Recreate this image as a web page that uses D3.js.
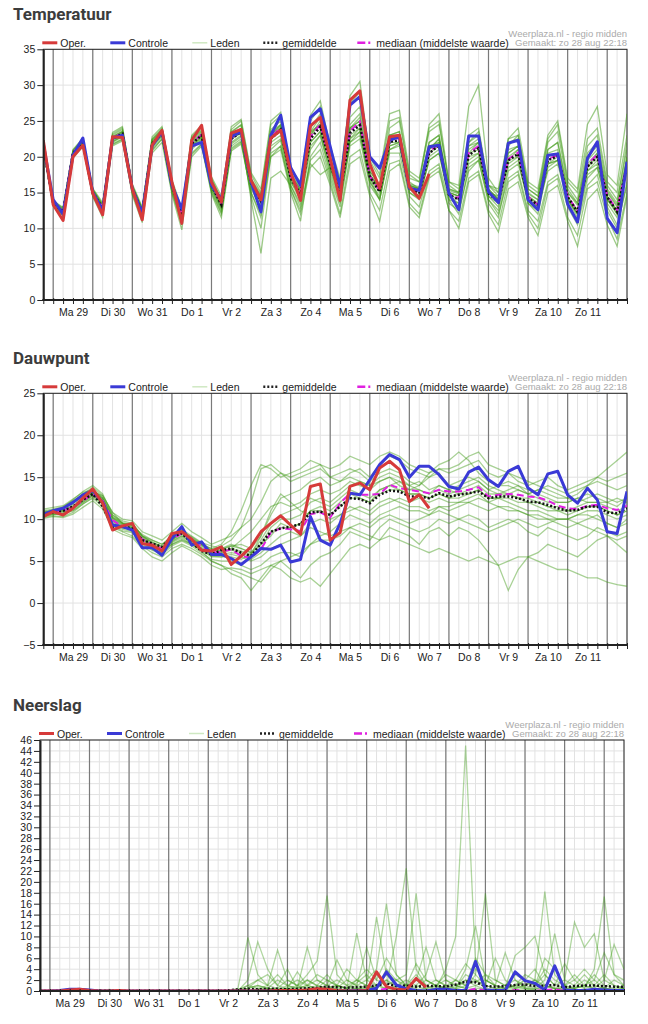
<!DOCTYPE html>
<html>
<head>
<meta charset="utf-8">
<script src="https://cdn.jsdelivr.net/npm/d3@7"></script>
<style>
body { margin: 0; background: #fff; }
text { font-family: "Liberation Sans", Arial, sans-serif; }
.title { font-family: Roboto, "Noto Sans", sans-serif; font-weight: 700; font-size: 17px; fill: #3c3c3c; }
</style>
</head>
<body>
<div id="chart"></div>
<script>
// 6-hourly steps, zo 28 aug 18:00 -> ma 12 sep 12:00
var startTime = new Date(Date.UTC(2022, 7, 28, 18));
var endTime = new Date(Date.UTC(2022, 8, 12, 12));
var dayLabels = ["Ma 29", "Di 30", "Wo 31", "Do 1", "Vr 2", "Za 3", "Zo 4", "Ma 5", "Di 6", "Wo 7", "Do 8", "Vr 9", "Za 10", "Zo 11"];
var legendLabels = ["Oper.", "Controle", "Leden", "gemiddelde", "mediaan (middelste waarde)"];

var tempTicks = [0, 5, 10, 15, 20, 25, 30, 35];
var dewTicks = [-5, 0, 5, 10, 15, 20, 25];
var rainTicks = d3.range(0, 47, 2);

// ---- Temperatuur ----
var tempOper = [22.3, 13.3,11.1,20,21.6, 14.9,11.9,22.8,22.7, 15.5,11.2,21.6,23.7, 16.5,10.7,22.3,24.4, 16.5,13.7,23.3,23.8, 16.7,14,22.6,23.7, 17.9,13.9,24.3,25.5, 19.8,13.9,27.9,29.2, 19,15.6,22.8,23, 15.8,14.2,17.6];
var tempControle = [21.8, 14,12,20.2,22.6, 15,12.5,22.6,23, 15.5,12.1,21.5,23.5, 16,12.7,21.5,22, 16,14,22.8,23.5, 16.5,12.3,23,25.8, 18.5,16,25.5,26.7, 21.4,15.8,27.2,28.4, 20,18.4,22.3,22.8, 15.6,15.3,21.4,21.6, 14.9,12.6,22.9,22.9, 15.1,13.6,21.9,22.3, 14,12.6,20.2,20.4, 13.4,10.9,19.8,22.1, 11.4,9.4,19.3];
var tempMean = [21.5, 13.5,12.3,20.5,22, 15,12.8,22.5,23.2, 15.5,12.2,21.8,23.3, 16,11.8,21.8,23, 16,13.3,22.5,23.5, 16.3,13.8,22.5,23.8, 17,14.8,22.5,24.2, 19,14.9,23.3,24.4, 17.2,15.1,22.1,22.3, 15.6,14.9,20.5,21.6, 14.7,14,20.2,21.2, 14.9,13.7,19.5,20.4, 14.2,13.3,19.5,20.1, 14.4,12.3,18.6,20, 14.4,12.3,18.8];
var tempMedian = [21.5, 13.5,12.4,20.6,22.1, 15,12.9,22.6,23.3, 15.5,12.2,21.8,23.4, 16,11.9,21.9,23.1, 16.1,13.4,22.6,23.6, 16.4,14,22.8,24, 17.2,15,22.8,24.5, 19.2,15,23.6,24.9, 17.3,15.3,22.3,22.6, 15.8,15,20.8,21.7, 14.8,14.2,20.5,21.5, 15,13.8,19.7,20.6, 14.4,13.3,19.7,20.2, 14.5,12.4,19,20.3, 14.6,12.5,19];
var tempLeden = [
    [22, 13.8,12.8,20.8,22.4, 15.5,13.2,23,23.8, 16,12.8,22.5,24, 16.5,12.5,22.8,24.1, 17,14,23.8,25, 17.5,15,24.5,25.8, 18.5,16,25,27, 21,16.5,27.5,29, 19.5,17,25,25.5, 17.5,16.5,23.5,24.5, 16.5,15.5,23,24, 16,15,22.5,23, 15.5,14.5,22,23.5, 16,14,21.5,23, 16,14,21],
    [21, 13.2,11.8,20.2,21.5, 14.5,12,21.8,22.5, 15,11.5,21,22.5, 15.2,10.8,20.5,21.8, 15,12,21,22, 15,12,20.5,21.5, 15.5,12.5,19.5,21, 16.5,12,20,21, 15,12.5,19,19.5, 13.5,12,17.5,18.5, 12.5,11,17,18, 12.5,10.5,16.5,17.5, 12,10,16,17, 11.5,9,15.5,16.5, 11.5,8.5,15],
    [21.8, 13.6,12.5,20.6,22.3, 15.2,13,22.7,23.5, 15.8,12.5,22.3,23.8, 16.5,12.3,22.5,23.8, 16.8,14,23.5,24.5, 17,14.8,23.8,25, 17.8,15.8,24,26, 20,15.5,25.5,27, 18,16,23,23, 16,15.5,21,22, 15.5,15,22,23.5, 16,14.5,21,21.5, 14.5,13,18,19, 13.5,11,17,18.5, 13.5,11.5,20],
    [21.2, 13.4,12.2,20.4,21.8, 14.8,12.5,22.2,22.8, 15.2,12,21.5,23, 15.8,11.5,21.3,22.5, 15.5,12.8,21.8,22.8, 15.8,13,21.5,22.5, 16.5,14,21.5,23, 18,14,22,23, 16.5,14.5,21.5,22, 15.5,14.5,21,22.5, 15,14.5,21.5,22.5, 15.5,14,20,21, 15,14,21,22, 15.5,13.5,20,21.5, 15,13,19.5],
    [21.6, 13.5,12.4,20.5,22, 14.8,12.4,22,22.8, 15,11.8,21.2,22.8, 15.5,11,21,22.4, 15.5,12.5,21.5,22.5, 14.5,10,20,21, 15,11,20,22, 17,13,22,23.5, 16.5,14,21,21.5, 15,14,19.5,20.5, 14,12,18.5,19.5, 13.5,11.5,18,19, 14,12.5,19,20, 14.5,12,19,20.5, 14.5,12,18.5],
    [21.4, 13.4,12.1,20.3,21.9, 15,12.9,22.4,23.1, 15.6,12.3,21.9,23.2, 16.2,11.8,21.6,22.7, 15.8,12.8,22,23, 14,6.5,17,18, 16,13,19,17.5, 18.5,15,22.5,24, 17.5,15.5,23,23.5, 16.5,15.5,22,23, 15,14.5,20.5,21, 14.5,13.5,19,20, 13.5,12,18.5,19.5, 14,12.5,18,19.5, 14,12.5,18],
    [21.7, 13.7,12.6,20.8,22.2, 15.3,13.3,22.8,23.6, 15.8,12.6,22.2,23.6, 16.3,12.2,22.3,23.5, 16.5,13.8,23,24, 16.8,14.5,23,24.5, 17.5,15.5,23.5,25.5, 19.5,15.8,24.5,26, 18,16,24,25, 17,16.5,24.5,26, 16.5,16,27,30, 17,15,22,22.5, 15.5,14.5,21,22, 15,13.5,20.5,22, 15.5,13.5,22],
    [21.3, 13.3,12,20.1,21.7, 14.7,12.6,22.1,22.9, 15.3,11.9,21.5,23.1, 15.7,11.3,21.4,22.8, 16.2,13.5,22.8,23.8, 16.8,14.2,23.2,24.4, 17.3,15.2,23,25, 19.5,15.5,24,25.5, 17,14,20.5,20.5, 14.5,13,18,19, 13.5,12.5,18,19.5, 14,12,17,18, 12.5,11,16.5,17.5, 13,10.5,16,17.5, 12.5,10,16.5],
    [21.9, 13.9,12.9,21,22.6, 15.6,13.6,23.2,24, 16.2,13,22.8,24.2, 16.8,12.8,23,24.4, 17.2,14.5,24.2,25.2, 17.8,15.5,25,26.2, 18.3,16.5,25.8,27.8, 21.5,17,28.5,30.5, 20,17.5,26,26.5, 18,17,24,25, 16,15,22,23, 15.5,14,21.5,23, 16,15,22.5,24.5, 16.5,15,22.5,24, 16.5,15,23],
    [21.1, 13.1,11.7,19.8,21.4, 14.6,12.2,21.7,22.4, 14.8,11.4,20.8,22.5, 15.1,10.5,20.3,21.7, 15.2,12.2,21.2,22.2, 15.6,12.8,21,22.3, 16,13.5,21,23, 17.5,13.5,21.5,22.5, 16,14,21,21.8, 15,14.2,20,21, 14,13.5,19,20, 14.5,13,19.5,21, 14.5,13.5,20,20.5, 14,11.5,17.5,18.5, 13,10.5,16],
    [21.5, 13.5,12.3,20.6,22.1, 15.1,12.8,22.6,23.3, 15.4,12.1,21.8,23.4, 16.1,11.6,21.9,23.2, 16.3,13.2,22.9,23.9, 16.5,13.5,22.5,23.5, 16.5,14.5,22,23.5, 18.5,14.5,23,24, 17,15.5,22.5,23, 16,15.5,21.5,22, 15,14.5,20,20.5, 15,14.5,20.5,21.5, 14.5,13.5,19,19.5, 14,12,18,19, 14,12,19],
    [21.6, 13.6,12.5,20.5,22, 15.4,13.4,23.4,24.2, 15.7,12.4,22,23.6, 16,11.9,22,23, 16,13.2,22.4,23.4, 16.2,13.5,22,23, 16.8,14.5,22,23.5, 18.5,14.2,22.5,23.5, 17,15,21.5,22, 15.5,14.5,19.5,20.5, 14.5,13.5,19.5,20.5, 14,12.5,18.5,19.5, 13.5,12.5,19,19.5, 14,12,18.5,20, 14,12.5,19.5],
    [21.2, 13.2,11.9,20,21.6, 14.4,11.5,21.5,22.2, 14.6,10.8,20.5,22, 14.8,9.8,20,21.5, 14.8,11.5,20.8,21.8, 15,11.5,20,21.5, 15.5,12,18.5,20, 16,11.5,19,20, 14.5,11,18,19, 13,11.5,17,18, 12.5,10,16.5,17.5, 12,9.5,15.5,16.5, 11.5,9,15,16, 11,7.5,14,15.5, 10.5,7.5,14.5],
    [21.8, 13.8,12.7,20.9,22.5, 15.2,13.1,22.8,23.5, 15.9,12.7,22.4,23.8, 16.4,12.3,22.6,23.6, 16.6,13.9,23.4,24.4, 16.5,14.5,23.5,24.5, 17,15,23,24.5, 19,15,24,25, 17.5,15.5,22.5,23, 16,15.5,21,22.5, 15.5,15,21.5,22, 16,15.5,22.5,24, 16.5,15.5,23,25, 17,15.5,24.5,27, 17.5,16,26],
    [21.4, 13.4,12.2,20.3,21.8, 14.9,12.7,22.4,23, 15.3,12,21.6,23, 15.9,11.7,21.7,23, 16,13,22.5,23.3, 16.5,14,23,24, 17.3,15.3,23.3,24.5, 19.3,15.3,23.8,24.5, 17.5,15.5,22,22, 15.8,15,20.5,21.5, 14.8,14,20.5,22, 15,13.5,19.5,20, 14,13,19.5,20.5, 14.5,12.5,18.5,20.5, 14.5,12.5,19],
    [21.7, 13.6,12.4,20.7,22.2, 15.1,13,22.6,23.4, 15.6,12.3,22,23.4, 16.2,12,22.2,23.3, 16.3,13.6,22.9,23.8, 16.8,14.2,23,24.2, 17.5,15.5,23.5,24.5, 19.5,15.3,24,25, 17.5,15.8,23,23.5, 16.2,15.8,22,23, 15.3,14.8,21,22, 15.2,14.2,20.5,21.5, 14.8,14,20.5,21, 15,13.2,19.5,21, 15.2,13.2,20]
];

// ---- Dauwpunt ----
var dewOper = [10.3, 10.9,10.5,11.3,12.5, 13.6,11.9,8.7,9.2, 9.5,7.1,6.9,6.2, 8.3,8.5,7.6,6.3, 6.2,6.7,4.6,5.6, 6.7,8.5,9.5,10.4, 9.3,8.2,13.9,14.2, 7.5,8.4,13.9,14.3, 13.5,16.1,16.9,15.9, 12.1,12.9,11.3];
var dewControle = [10.6, 11,11.3,12,12.9, 13.4,12,9.3,9.1, 8.7,6.6,6.6,5.7, 7.7,9.1,6.9,7.3, 5.8,5.8,5.3,4.6, 5.5,6.5,6.4,6.9, 4.9,5.2,10.3,7.5, 6.9,9.5,13.1,12.9, 14.7,16.5,17.7,17.1, 15,16.3,16.3,15.3, 13.9,13.6,15.6,16.2, 14.7,13.9,15.7,16.3, 13.7,12.9,15.4,15.7, 12.9,11.9,13.7,12.3, 8.5,8.3,13.3];
var dewMean = [10.6, 10.8,11,11.5,12.3, 13,11.5,9.1,9.1, 8.9,7.5,7.1,6.7, 7.9,8.3,7.2,6.2, 5.8,6.3,6.5,6, 5.6,7.1,8.5,8.9, 9.1,9.4,10.8,10.9, 10.5,11.5,12.5,12.4, 11.9,12.9,13.4,13.3, 12.7,12.7,12.5,13.1, 12.7,12.9,13.1,13.3, 12.5,12.7,12.7,12.5, 12.1,12,11.7,11.3, 11,11.1,11.5,11.5, 10.8,10.7,11.3];
var dewMedian = [10.6, 10.8,11,11.4,12.2, 13,12.2,9.9,9.1, 8.9,7.6,7,6.5, 7.6,8.3,7.5,6.8, 6,6.1,6.4,5.6, 5.4,6.4,8.4,8.9, 8.8,8.6,10.6,10.8, 10.2,11.9,13.1,12.9, 12.9,13,14.1,13.7, 13.5,13.3,13.1,13.5, 13.3,13.3,13.5,13.8, 12.7,12.9,13,12.9, 12.7,12.6,12.2,11.6, 11.3,11.2,11.6,11.7, 11.3,11.1,11.6];
var dewLeden = [
    [10.5, 10.8,11.2,12,13, 13.5,12.5,10.5,9.8, 9.5,8,7.5,7, 8,8.5,7.8,7, 6.5,7,8.5,11, 14,16.5,16,15, 15.5,16,17,16.5, 15,15.5,16,15.5, 14.5,15.5,16,15.5, 14.5,14,15,15.5, 14,14.5,15,14.5, 13.5,14,14.5,14, 13,13.5,14,13.5, 13,13.5,14,14.5, 14,13.5,14],
    [10.2, 10.4,10.3,10.8,11.8, 12.5,11.5,9,8.5, 8,6.8,6,5.5, 6.5,7,6.5,5.8, 5,4.5,4,3.5, 3,2.5,4,5, 4,3,4.5,5.5, 6,7,8.5,8, 7.5,9,10,9.5, 9,8.5,9,10, 9.5,10,10.5,10, 9,9.5,10,9.5, 8.5,8,9,8.5, 8,7.5,8,9, 8.5,8,8.5],
    [11, 11.2,11.5,12.2,12.8, 13.2,12.8,10.8,9.5, 9.2,8.2,7.5,7, 7.8,8.8,8,7.2, 6.8,6.5,6.8,7, 6.5,8,10.5,12.5, 13,13.5,14.5,15, 14,14.5,15.5,16, 15,16.5,17.5,17, 16,15.5,15,16, 15.5,16,16.5,17, 15.5,15,15.5,14.5, 14,14.5,15,14, 13.5,14,14.5,15, 14.5,15,15.5],
    [10.8, 11,10.9,11.3,12, 12.8,12,9.5,9, 8.8,7.3,6.5,6, 7.2,7.8,7,6.3, 5.5,5.5,5.8,5.5, 5,5.5,6.5,7, 7.5,8,9.5,10, 9.5,10.5,11.5,11, 10.5,11.5,12,12.5, 12,12.5,12,12.5, 12,12,12.5,13, 12,12.5,12,11.5, 11,11,10.5,10, 10,10.5,11,11, 10.5,10,10.5],
    [10.4, 10.6,10.8,11,12, 12.8,12,10.2,9.5, 9,7.5,6.8,6.2, 7,7.5,7,6.2, 5,4.5,3.5,3, 1.5,3,4.5,4, 3,2.5,3,2, 3.5,5,6.5,7, 6.5,7.5,9,8.5, 8,7,8.5,9, 8,9,8.5,7.5, 6,4.5,1.5,4, 5.5,6,7,6.5, 6,5.5,6.5,7.5, 8,7.5,8],
    [10.7, 11,11.4,12.3,13.3, 14,13,10.5,9.5, 9.5,8,7.2,6.8, 8,8.5,7.5,7, 6.2,6.5,7,6.5, 6,7,9,10, 10,10.5,12,12.5, 12,13,14,14.5, 14,15,15.5,15, 14,14.5,13.5,14, 13.5,14,14.5,15, 14,13.5,13,13.5, 13,12.5,12,12, 12,12.5,13,12.5, 12,11.5,12.5],
    [10.9, 10.9,11.1,11.6,12.5, 13.2,12.4,10,9.2, 9,7.8,7,6.5, 7.5,8.4,7.7,6.9, 6.1,6.3,6.8,6.5, 6,7.5,9.5,10.5, 11,11.5,12.5,12, 11.5,12.5,13.5,13, 12.5,13.5,14,14.5, 13.5,13.5,13,13.5, 13,13.5,14,14.5, 13.5,13,13,12.5, 12.5,12,11.5,11, 11,11.5,12,12, 11.5,11,11.5],
    [10.3, 10.5,10.7,11.8,13, 13.8,12.8,10.8,10, 9.8,8.5,8,7.5, 8.5,9.5,8.5,7.8, 7,7.5,8,9, 10,12,14.5,15.5, 15,15.5,16,16.5, 16,16.5,17.5,17, 16.5,17.5,18,17.5, 16.5,16,15.5,16, 16,16.5,17.5,18, 16.5,16,15.5,15, 14.5,14,13.5,13, 12.5,13,14,15, 16,17,18],
    [10.6, 10.7,10.6,11,11.8, 12.6,11.8,9.3,8.8, 8.5,7,6.3,5.8, 6.8,7.4,6.8,6, 5.2,5,5,4.5, 4,4.5,5.5,6, 6,5.5,7,8, 8.5,9.5,10.5,10, 9.5,10.5,11,11.5, 11,11,10.5,11.5, 11,11.5,12,11.5, 11,11.5,11.5,11, 10.5,10,10,9.5, 9,9.5,10,10.5, 9.5,9,10],
    [10.5, 11,11.3,12,12.6, 13,12,9.8,9, 8.7,7.6,6.8,6.4, 7.4,8,7.2,6.6, 5.8,6,6.5,6.2, 5.8,7,8,9.5, 9,9.5,11,11.5, 11,12,13,12.5, 12,13.5,14,13.5, 13,13,12.5,13, 12.5,12.5,13,13.5, 12.5,12.5,12.5,12, 12,11.5,11,11, 10.5,11,11.5,11.5, 11,10.5,11],
    [11.2, 11.4,11.6,12.4,13.2, 13.5,12.6,10.3,9.6, 9.3,8,7.3,6.7, 7.6,8.3,7.6,7, 6.5,6.2,6.5,7.5, 8.5,10,11.5,12, 11.5,12,13,13.5, 13,13.5,14.5,14, 13.5,14.5,15,14, 13.5,14,15.5,16.5, 17,18,17,15.5, 14.5,14,14,13.5, 13,13.5,13,12.5, 12.5,12,12.5,13, 12.5,12,12.5],
    [10.1, 10.3,10.2,10.6,11.4, 12.2,11.2,8.8,8.2, 7.8,6.5,5.5,5, 6,6.8,6.2,5.5, 4.5,4,4.2,4, 3.5,4,4.5,5, 5.5,6,7,7.5, 7.5,8,9,9.5, 9,10,10.5,10, 9.5,10,10.5,11, 10.5,10,9.5,9, 8.5,9,9.5,10, 9.5,9,9.5,10, 10,9.5,9,8.5, 8,7,6],
    [10.7, 10.9,11,11.4,12.2, 12.9,12.1,9.7,9.1, 8.9,7.6,6.9,6.3, 7.3,8,7.3,6.5, 5.7,5.8,6,5.8, 5.2,6,7,8, 8.5,8,9,8.5, 8,8.5,9,8.5, 8,7.5,8,7.5, 7,6.5,6,6.5, 6,5.5,5,5.5, 5,4.5,5,5.5, 5.5,5,4.5,4, 4,3.5,3,3, 2.5,2.2,2],
    [10.9, 11.1,11.3,11.9,12.7, 13.3,12.5,10.2,9.4, 9.2,7.9,7.2,6.6, 7.7,8.6,7.9,7.1, 6.3,6.8,7.5,9, 12,16,16.5,15.5, 14.5,15,15.5,16, 15,14.5,15,14.5, 14,14.5,15,14.5, 14,13.5,13,14, 13.5,13,13.5,14, 13,13,13.5,14, 13.5,13,12.5,12, 12,12.5,12,12, 12,12.5,12],
    [10.6, 10.8,11,11.5,12.4, 13.1,12.3,10.1,9.3, 9,7.7,7,6.5, 7.5,8.2,7.5,6.8, 6,6,6.3,6, 5.5,6.5,8.5,9, 9,9.5,11,11, 10.5,11.5,12.5,12.5, 12,13,13.5,13.5, 13,13,12.5,13, 12.5,13,13,13.5, 12.5,12.5,13,12.5, 12,12,11.5,11.5, 11,11,11.5,11.5, 11,10.5,11],
    [10.4, 10.6,10.5,11.2,12.2, 13,11.8,9.2,8.6, 8.4,7.2,6.4,6, 7,7.6,7,6.4, 5.6,5.5,5.5,5.2, 5.8,8,11,13, 12,11,10.5,11, 10,10.5,11,11.5, 11,12,12.5,12, 11.5,11.5,11,11.5, 11.5,12,12,12.5, 12,11.5,11,11, 10.5,10.5,10,10, 10,10.5,10.5,10, 9.5,9,9.5]
];

// ---- Neerslag (mm per 6 uur) ----
var rainOper = [0, 0,0,0.2,0.3, 0.1,0,0,0.1, 0,0,0,0, 0,0,0,0, 0,0,0,0, 0,0,0,0.1, 0.1,0.1,0.2,0.4, 0.3,0.1,0,0, 0.1,3.5,0.8,0.3, 0.2,2.3,0.7];
var rainControle = [0, 0,0.1,0.3,0.3, 0.2,0,0,0, 0,0,0,0, 0,0,0,0, 0,0,0,0, 0,0,0,0, 0,0,0,0.1, 0,0,0,0.1, 0.1,0.5,3.5,1.1, 0.4,0.1,0,0.3, 0.3,0.1,0.1,5.4, 0.2,0.1,0.1,3.5, 1.9,1.4,0.2,4.6, 0.2,0.1,0.1,0.3, 0.2,0.1,0.1];
var rainMean = [0, 0,0.05,0.1,0.15, 0.1,0.05,0.05,0, 0,0,0,0, 0,0,0,0, 0,0,0.1,0.3, 0.4,0.3,0.4,0.4, 0.3,0.4,0.5,0.6, 0.8,0.7,0.6,0.7, 0.8,1,1.4,0.9, 1,0.8,0.9,0.9, 0.8,1.2,1.7,1.6, 0.9,0.8,0.9,1.1, 1.2,0.9,1,1.1, 0.7,0.9,1,1, 0.9,0.8,0.8];
var rainMedian = [0, 0,0,0,0, 0,0,0,0, 0,0,0,0, 0,0,0,0, 0,0,0,0, 0,0,0,0, 0,0,0,0, 0,0,0,0, 0,0.2,0.4,0.2, 0,0,0,0, 0,0,0,0.4, 0.1,0,0,0.2, 0,0,0.2,0.3, 0,0,0,0, 0,0,0];
var rainLeden = [
    [0,0,0,0,0,0,0,0,0,0,0,0,0,0,0,0,0,0,0,0, 0,0.5,1,0.5,0.2,1,2,1,0.5,2,1,0.5,1.5,3,1,2,0.5,1,3,1,0.5,4,10,45,5,1,0.5,1,2,0.5,1,3,1,0.5,0.5,1,2,0.5,0.3,0.5],
    [0,0,0,0,0,0,0,0,0,0,0,0.2,0,0,0,0,0,0,0,0, 0.5,9.8,3,1,0.5,2,1,3,5.5,17.5,3,1,2,1,0.5,4,2,1,0.5,2,1,0.5,1,2,1.5,3,1,0.5,1,2,4,1,0.5,1,3,1,0.5,2,1,0.5],
    [0,0,0,0.2,0,0,0,0.3,0,0,0,0,0,0,0,0,0,0,0,0, 0,2,9,4,1,0.5,3.5,1,2,1,5.7,2,1,0.5,3,1,10,22.5,4,1,2,1,0.5,3,2,1,6,2,0.5,1,2,0.5,1,5,2,0.5,1,3,1,0.5],
    [0,0,0,0,0,0,0,0,0,0,0,0,0,0,0,0,0,0,0,0, 0,0,0.5,1,7.5,2,1,0.5,1,3,1,0.5,10.6,2,4,16,3,1,2,0.5,1,2,1,0.5,3,17.9,2,1,0.5,2,1,4,2,1,0.5,1,3,1,0.5,1],
    [0,0,0,0,0,0,0,0,0,0,0,0,0,0,0,0,0,0,0,0, 0,1,2,3,1,4,0.5,8,2,1,0.5,2,1,8,2,1,2,3,17.9,2,1,0.5,2,1,4,2,1,0.5,1,3,2,18.2,3,1,0.5,2,1,0.5,2,1],
    [0,0,0,0,0,0,0,0,0,0,0,0,0,0,0,0,0,0,0,0, 0.2,0.5,1,0.5,2,1,0.5,1,3,2,1,4,2,1,13.6,3,1,0.5,2,8,2,1,0.5,4,12,2,1,7,2,1,0.5,2,10.5,2,1,0.5,4,17.3,3,1],
    [0,0,0,0,0,0,0,0,0,0,0,0,0,0,0,0,0,0,0,0, 0,0,0.3,0.5,0.2,0.5,1,2,1,0.5,1,0.5,1,2,1,0.5,1,2,1,3,9,2,1,0.5,1,2,1,0.5,6.5,8,10,3,1,2,12.6,8,10.5,2,8.5,4],
    [0,0,0,0,0,0,0,0,0,0,0,0,0,0,0,0,0,0,0,0, 0,0,0,0.2,0.5,0.3,0.5,1,0.5,0.3,0.5,0.2,0.5,1,0.5,2,1,0.5,0.3,0.5,1,0.5,0.3,1,2,0.5,0.3,0.5,1,0.5,0.3,1,0.5,0.3,0.5,1,0.5,0.3,0.2,0.5],
    [0,0,0,0,0,0,0,0,0,0,0,0,0,0,0,0,0,0,0,0, 0,0,0,0,0,0,0,0.2,0.5,1,2,1,0.5,0.3,1,3,2,0.5,1,0.3,0.5,1,2,5,3,1,0.5,0.3,0.5,1,2,1,0.5,0.3,1,3,1,0.5,0.3,0.2],
    [0,0,0,0,0,0,0,0,0,0,0,0,0,0,0,0,0,0,0,0, 0.3,1,0.5,0.2,0,0.5,0.2,0,0,0.5,0.3,0,0.2,0.5,1,0.5,0.3,0,0,0.2,0.5,0.3,0,0.2,0.5,0.3,0.2,0,0,0.2,0.5,0.3,0,0,0.2,0.3,0.2,0,0.2,0],
    [0,0,0,0,0,0,0,0,0,0,0,0,0,0,0,0,0,0,0,0, 0,0.5,2,1,3,1,0.5,2,1,0.5,1,0.5,2,4,2,6,3,1,5,2,1,3,2,1,6,3,2,1,3,2,1,6,4,1,2,4,2,7,3,2],
    [0,0,0,0,0,0,0,0,0,0,0,0,0,0,0,0,0,0,0,0, 0,0,0,0.5,0.3,0,0.2,0.5,0.3,0.2,0,0.3,0.5,0.2,0,0.3,0.5,0.2,0.3,0,0.2,0.5,0.3,2,1,0.3,0.2,0,0.3,0.5,0.2,0,0.5,0.3,0,0.2,0.3,0.5,0.2,0]
];

function timeAt(i) { return d3.utcHour.offset(startTime, 6 * i); }

EnsembleChart = function(svg, opts) {
    var vis = this;
    vis.svg = svg;
    vis.opts = opts;
    vis.initVis();
    vis.updateVis();
}

EnsembleChart.prototype.initVis = function() {
    var vis = this;
    var o = vis.opts;

    vis.g = vis.svg.append("g");
    vis.x = d3.scaleUtc().domain([startTime, endTime]).range([o.left, o.right]);
    vis.y = d3.scaleLinear().domain([o.ticks[0], o.ticks[o.ticks.length - 1]]).range([o.bottom, o.top]);

    vis.g.append("text")
        .attr("class", "title")
        .attr("x", 13)
        .attr("y", o.top - 29)
        .text(o.title);

    var sixHours = d3.utcHour.every(6).range(startTime, d3.utcHour.offset(endTime, 1));
    var midnights = d3.utcDay.range(d3.utcDay.ceil(startTime), endTime);

    // light grid
    vis.g.selectAll(".vgrid").data(sixHours).enter().append("line")
        .attr("x1", d => vis.x(d)).attr("x2", d => vis.x(d))
        .attr("y1", o.top).attr("y2", o.bottom)
        .attr("stroke", "#e2e2e2").attr("stroke-width", 1);
    vis.g.selectAll(".hgrid").data(o.ticks).enter().append("line")
        .attr("x1", o.left).attr("x2", o.right)
        .attr("y1", d => vis.y(d)).attr("y2", d => vis.y(d))
        .attr("stroke", "#e2e2e2").attr("stroke-width", 1);
    // day separators
    vis.g.selectAll(".dgrid").data(midnights).enter().append("line")
        .attr("x1", d => vis.x(d)).attr("x2", d => vis.x(d))
        .attr("y1", o.top).attr("y2", o.bottom)
        .attr("stroke", "#7a7a7a").attr("stroke-width", 1.2);

    // frame
    vis.g.append("rect")
        .attr("x", o.left).attr("y", o.top)
        .attr("width", o.right - o.left).attr("height", o.bottom - o.top)
        .attr("fill", "none").attr("stroke", "#222").attr("stroke-width", 1);

    vis.clipId = "clip-" + o.key;
    vis.svg.append("clipPath").attr("id", vis.clipId)
        .append("rect")
        .attr("x", o.left).attr("y", o.top)
        .attr("width", o.right - o.left).attr("height", o.bottom - o.top);
    vis.lines = vis.g.append("g").attr("clip-path", "url(#" + vis.clipId + ")");

    // axes
    vis.yAxis = d3.axisLeft(vis.y).tickValues(o.ticks).tickSize(6).tickPadding(2).tickSizeOuter(0);
    vis.g.append("g")
        .attr("class", "y-axis")
        .attr("transform", "translate(" + o.left + ",0)")
        .call(vis.yAxis);

    vis.xTicks = d3.axisBottom(vis.x).tickValues(sixHours).tickSize(6).tickFormat("").tickSizeOuter(0);
    vis.g.append("g")
        .attr("class", "x-ticks")
        .attr("transform", "translate(0," + (o.bottom - 2) + ")")
        .call(vis.xTicks);

    var noons = midnights.slice(0, dayLabels.length).map(d => d3.utcHour.offset(d, 12));
    vis.xLabels = d3.axisBottom(vis.x).tickValues(noons).tickSize(0).tickPadding(9)
        .tickFormat((d, i) => dayLabels[i]);
    vis.g.append("g")
        .attr("class", "x-labels")
        .attr("transform", "translate(0," + o.bottom + ")")
        .call(vis.xLabels);

    vis.g.selectAll(".y-axis text, .x-labels text")
        .attr("font-size", 10.5)
        .attr("fill", "#222")
        .attr("font-family", "'Liberation Sans', Arial, sans-serif");
    vis.g.selectAll(".y-axis line, .x-ticks line").attr("stroke", "#222");
    vis.g.selectAll(".x-labels .domain, .x-ticks .domain").remove();
    vis.g.select(".y-axis .domain").attr("stroke", "#222").attr("stroke-width", 2);
    vis.g.append("line")
        .attr("x1", o.left - 1).attr("x2", o.right)
        .attr("y1", o.bottom).attr("y2", o.bottom)
        .attr("stroke", "#222").attr("stroke-width", 2);

    // legend
    var lx = o.left - 1;
    var ly = o.top - 6.5;
    var items = [
        {dx: 0, w: 15, tx: 18, stroke: "#d63a3a", sw: 3, dash: null},
        {dx: 68, w: 15, tx: 86, stroke: "#3a3ad6", sw: 3, dash: null},
        {dx: 150, w: 15, tx: 168, stroke: "#cfe8c2", sw: 1.5, dash: null},
        {dx: 221, w: 14, tx: 240, stroke: "#222", sw: 2.5, dash: "2,2"},
        {dx: 315, w: 15, tx: 334, stroke: "#e020e0", sw: 2.5, dash: "8,3,2,3"}
    ];
    var leg = vis.g.append("g").attr("class", "legend");
    items.forEach(function(it, k) {
        leg.append("line")
            .attr("x1", lx + it.dx).attr("x2", lx + it.dx + it.w)
            .attr("y1", ly).attr("y2", ly)
            .attr("stroke", it.stroke).attr("stroke-width", it.sw)
            .attr("stroke-dasharray", it.dash);
        leg.append("text")
            .attr("x", lx + it.tx).attr("y", ly + 4)
            .attr("font-size", 10.5).attr("fill", "#222")
            .text(legendLabels[k]);
    });
    vis.g.append("text")
        .attr("x", o.right).attr("y", o.top - 12)
        .attr("text-anchor", "end").attr("font-size", 9.5).attr("fill", "#aaa")
        .text("Weerplaza.nl - regio midden");
    vis.g.append("text")
        .attr("x", o.right).attr("y", o.top - 3)
        .attr("text-anchor", "end").attr("font-size", 9.5).attr("fill", "#aaa")
        .text("Gemaakt: zo 28 aug 22:18");
}

EnsembleChart.prototype.updateVis = function() {
    var vis = this;
    var o = vis.opts;

    var line = d3.line()
        .x((d, i) => vis.x(timeAt(i)))
        .y(d => vis.y(d));

    vis.lines.selectAll(".lid")
        .data(o.members)
        .enter().append("path")
        .attr("class", "lid")
        .attr("d", line)
        .attr("fill", "none")
        .attr("stroke", "#3d9a14")
        .attr("stroke-opacity", o.memberOpacity)
        .attr("stroke-width", 1.3);

    vis.lines.append("path").datum(o.median)
        .attr("d", line).attr("fill", "none")
        .attr("stroke", "#e020e0").attr("stroke-width", 2)
        .attr("stroke-dasharray", "7,4");
    vis.lines.append("path").datum(o.mean)
        .attr("d", line).attr("fill", "none")
        .attr("stroke", "#111").attr("stroke-width", 2.5)
        .attr("stroke-dasharray", "2,2");
    vis.lines.append("path").datum(o.controle)
        .attr("d", line).attr("fill", "none")
        .attr("stroke", "#3a3ad6").attr("stroke-width", 3)
        .attr("stroke-linejoin", "round");
    vis.lines.append("path").datum(o.oper)
        .attr("d", line).attr("fill", "none")
        .attr("stroke", "#d63a3a").attr("stroke-width", 3)
        .attr("stroke-linejoin", "round");
}

var svg = d3.select("#chart").append("svg")
    .attr("width", 648)
    .attr("height", 1024)
    .style("display", "block");

new EnsembleChart(svg, {
    key: "temp", title: "Temperatuur", ticks: tempTicks,
    left: 43.3, right: 627, top: 49.3, bottom: 300,
    oper: tempOper, controle: tempControle, mean: tempMean, median: tempMedian,
    members: tempLeden, memberOpacity: 0.5
});
new EnsembleChart(svg, {
    key: "dew", title: "Dauwpunt", ticks: dewTicks,
    left: 43.3, right: 627, top: 393.3, bottom: 645,
    oper: dewOper, controle: dewControle, mean: dewMean, median: dewMedian,
    members: dewLeden, memberOpacity: 0.45
});
new EnsembleChart(svg, {
    key: "rain", title: "Neerslag", ticks: rainTicks,
    left: 40, right: 624, top: 740, bottom: 991,
    oper: rainOper, controle: rainControle, mean: rainMean, median: rainMedian,
    members: rainLeden, memberOpacity: 0.4
});
</script>
</body>
</html>
